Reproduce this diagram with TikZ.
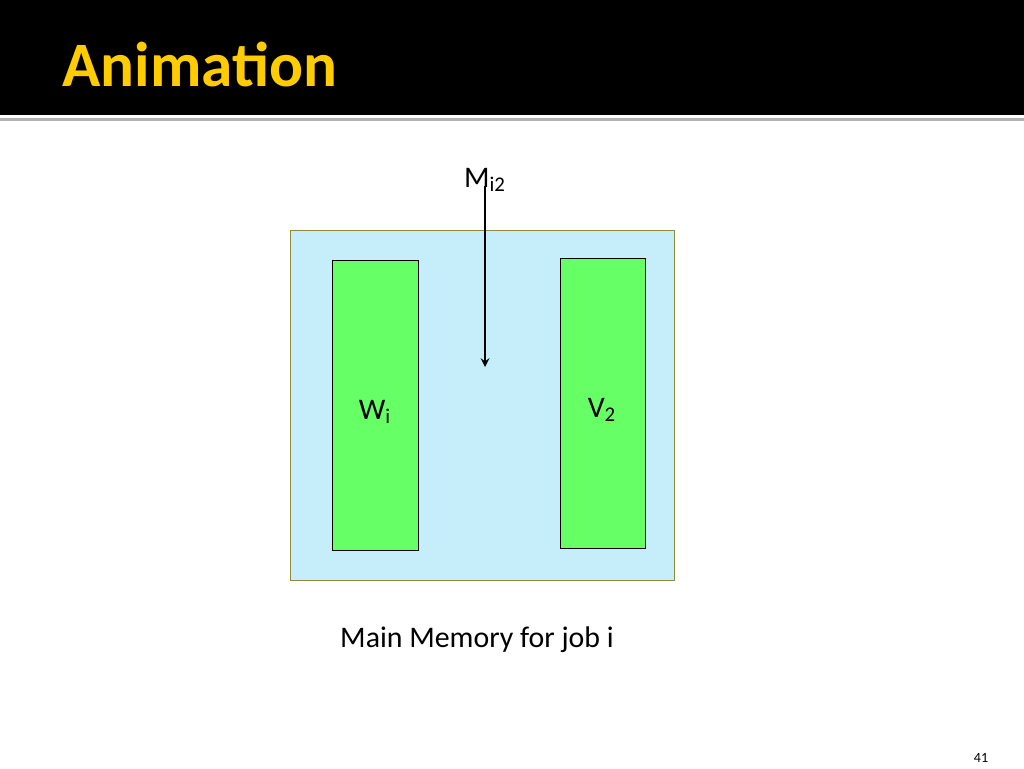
\documentclass[tikz,border=0pt]{standalone}
\usepackage{fontspec}
\setmainfont{Carlito}
\usetikzlibrary{positioning}
\definecolor{memblue}{HTML}{C6EEFA}
\definecolor{memedge}{HTML}{8C8C3C}
\definecolor{pagegreen}{HTML}{66FF66}
\definecolor{titleyellow}{HTML}{FFCC00}
\tikzset{
    pagebox/.style = {draw = black, fill = pagegreen},
    lbl/.style = {font = \fontsize{17}{20}\selectfont, inner sep = 0pt}
}
\begin{document}
\begin{tikzpicture}[x = 0.02cm, y = -0.02cm]
    \useasboundingbox (0,0) rectangle (1024,768);
    \fill[black] (0,0) rectangle (1024,115);
    \fill[black!30] (0,118) rectangle (1024,121);
    \node[anchor = base west, inner sep = 0pt, text = titleyellow,
          font = \fontsize{36}{40}\selectfont\bfseries] (title) at (62,86) {Animation};
    \draw[memedge, fill = memblue] (290,230) rectangle (674,580);
    \draw[pagebox] (332,260) rectangle (418,550);
    \draw[pagebox] (560,258) rectangle (645,548);
    \node[lbl] (m) at (485,180) {M\textsubscript{i2}};
    \coordinate (tip) at (485,367);
    \draw[-stealth, line width = 1.2pt] (m.south) ++(0,-6) -- (tip);
    \node[lbl] (w) at (375,412) {W\textsubscript{i}};
    \node[lbl] (v) at (602,410) {V\textsubscript{2}};
    \node[lbl] (cap) at (477,640) {Main Memory for job i};
    \node[font = \fontsize{8}{10}\selectfont, inner sep = 0pt] (num) at (981,758) {41};
\end{tikzpicture}
\end{document}
